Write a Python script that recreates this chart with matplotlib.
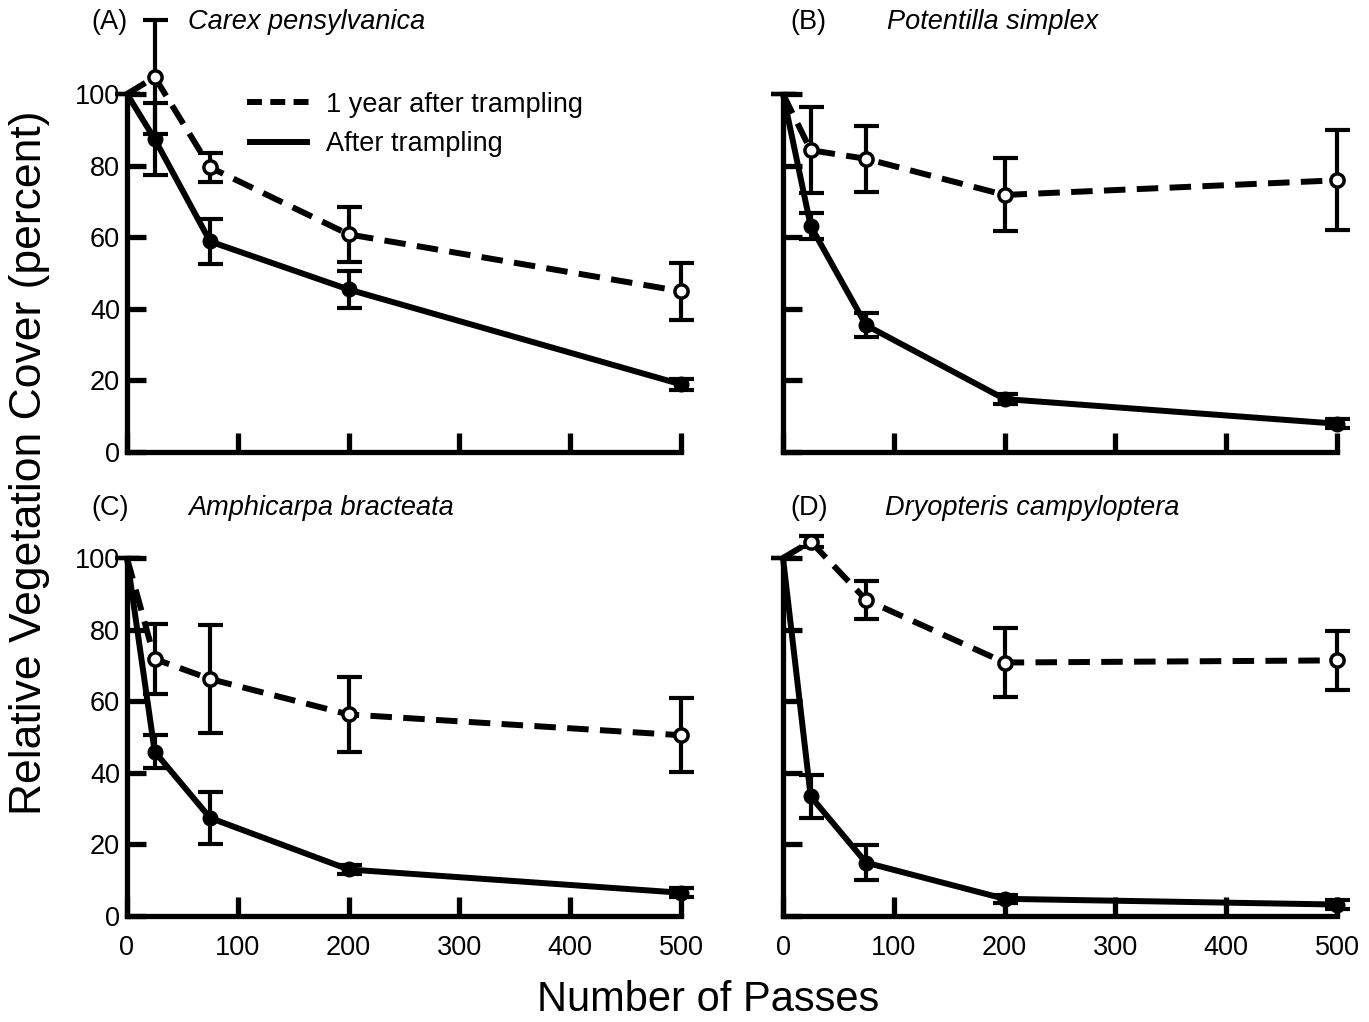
import matplotlib
matplotlib.use("Agg")
import matplotlib.pyplot as plt
from matplotlib.lines import Line2D

plt.rcParams["font.family"] = ["Liberation Sans", "DejaVu Sans"]

# number of passes
passes = [0, 25, 75, 200, 500]

# (A) Carex pensylvanica
a_after = [100, 87.4, 58.8, 45.4, 18.9]
a_after_err = [0, 10, 6.2, 5.1, 1.5]
a_year = [100, 104.7, 79.5, 60.8, 44.9]
a_year_err = [0, 16, 4, 7.7, 8]

# (B) Potentilla simplex
b_after = [100, 63.1, 35.4, 14.8, 7.9]
b_after_err = [0, 3.6, 3.4, 1.3, 1.3]
b_year = [100, 84.3, 81.9, 71.8, 75.9]
b_year_err = [0, 12, 9.2, 10.2, 14]

# (C) Amphicarpa bracteata
c_after = [100, 45.9, 27.4, 13.0, 6.5]
c_after_err = [0, 4.6, 7.2, 1.3, 1.3]
c_year = [100, 71.8, 66.2, 56.3, 50.5]
c_year_err = [0, 9.8, 15, 10.4, 10.3]

# (D) Dryopteris campyloptera
d_after = [100, 33.4, 14.9, 4.8, 3.2]
d_after_err = [0, 6.1, 4.8, 1.2, 1.2]
d_year = [100, 104.6, 88.3, 70.8, 71.4]
d_year_err = [0, 1.5, 5.2, 9.6, 8.3]

letters = ["(A)", "(B)", "(C)", "(D)"]
species = ["Carex pensylvanica", "Potentilla simplex",
           "Amphicarpa bracteata", "Dryopteris campyloptera"]
after_all = [a_after, b_after, c_after, d_after]
after_err_all = [a_after_err, b_after_err, c_after_err, d_after_err]
year_all = [a_year, b_year, c_year, d_year]
year_err_all = [a_year_err, b_year_err, c_year_err, d_year_err]

W, H = 1369, 1022
fig = plt.figure(figsize=(W / 100, H / 100), dpi=100)

lefts = [127, 783, 127, 783]
bottoms = [452, 452, 916, 916]
pw, ph = 554, 358

LW = 4.3
DASH = (3.6, 1.9)
FS = 19.5

letter_x = [-0.065, 0.013, -0.065, 0.013]
species_x = [0.11, 0.188, 0.11, 0.185]
title_y = [1.2, 1.2, 1.14, 1.14]

for i in range(4):
    ax = fig.add_axes([lefts[i] / W, 1 - bottoms[i] / H, pw / W, ph / H])
    ax.set_xlim(0, 500)
    ax.set_ylim(0, 100)
    for s in ["top", "right"]:
        ax.spines[s].set_visible(False)
    for s in ["left", "bottom"]:
        ax.spines[s].set_linewidth(3.8)
        ax.spines[s].set_capstyle("projecting")
    ax.set_xticks(range(0, 501, 100))
    ax.set_yticks(range(0, 101, 20))
    ax.tick_params(direction="in", length=14, width=3.8, labelsize=FS,
                   colors="black")
    ax.tick_params(axis="x", pad=14)
    ax.tick_params(axis="y", pad=5)
    if i < 2:
        ax.set_xticklabels([])
    if i % 2 == 1:
        ax.set_yticklabels([])

    # 1 year after trampling (dashed, open circles)
    ax.errorbar(passes, year_all[i], yerr=year_err_all[i], fmt="none",
                ecolor="black", elinewidth=3, capsize=9, capthick=3,
                clip_on=False, zorder=2)
    ax.plot(passes, year_all[i], color="black", lw=LW, dashes=DASH,
            clip_on=False, zorder=3)
    ax.plot(passes[1:], year_all[i][1:], "o", ms=9.5, mfc="white", mec="black",
            mew=2.5, clip_on=False, zorder=5)

    # after trampling (solid, filled circles)
    ax.errorbar(passes, after_all[i], yerr=after_err_all[i], fmt="none",
                ecolor="black", elinewidth=3, capsize=9, capthick=3,
                clip_on=False, zorder=2)
    ax.plot(passes, after_all[i], color="black", lw=LW, solid_capstyle="butt",
            clip_on=False, zorder=3)
    ax.plot(passes[1:], after_all[i][1:], "o", ms=10.5, color="black",
            clip_on=False, zorder=5)

    ax.text(letter_x[i], title_y[i], letters[i], transform=ax.transAxes,
            fontsize=FS, ha="left", va="center")
    ax.text(species_x[i], title_y[i], species[i], transform=ax.transAxes,
            fontsize=FS, style="italic", ha="left", va="center")

    if i == 0:
        handles = [
            Line2D([], [], color="black", lw=LW, dashes=(2.5, 1.4)),
            Line2D([], [], color="black", lw=LW, solid_capstyle="butt"),
        ]
        ax.legend(handles, ["1 year after trampling", "After trampling"],
                  loc="upper left", bbox_to_anchor=(0.173, 1.075), frameon=False,
                  fontsize=FS, handlelength=2.3, handletextpad=0.6,
                  labelspacing=0.5)

fig.text(30 / W, 1 - 463 / H, "Relative Vegetation Cover (percent)",
         rotation=90, fontsize=32, ha="center", va="center")
fig.text(708 / W, 1 - 1000 / H, "Number of Passes", fontsize=30,
         ha="center", va="center")

fig.savefig("out.png", dpi=100)
